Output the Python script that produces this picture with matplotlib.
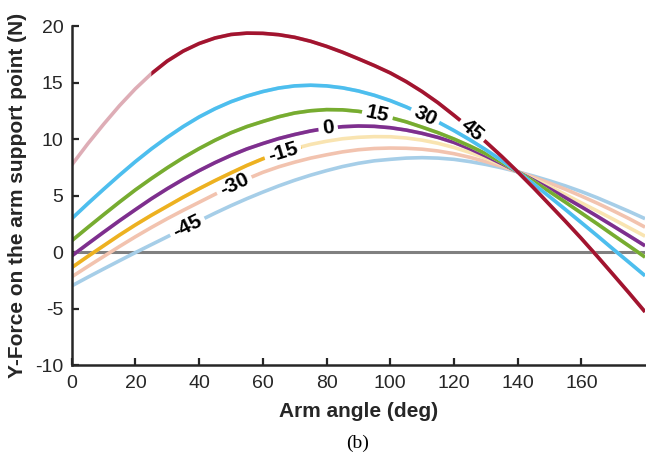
import numpy as np
import matplotlib
matplotlib.use("Agg")
import matplotlib.pyplot as plt
from matplotlib.path import Path
from matplotlib.colors import to_rgb
from matplotlib.transforms import IdentityTransform

plt.rcParams['font.family'] = ['Liberation Sans', 'DejaVu Sans']
plt.rcParams['axes.unicode_minus'] = False

# arm angle (deg), one sample every 5 deg
angle = np.arange(0, 181, 5)

# Y-force (N) for each offset angle
force_m45 = [-3.0, -2.24, -1.5, -0.77, -0.05, 0.65, 1.35, 2.06, 2.75, 3.44, 4.1, 4.72, 5.3, 5.85,
             6.35, 6.8, 7.2, 7.56, 7.85, 8.07, 8.2, 8.31, 8.35, 8.31, 8.2, 8.0, 7.75, 7.45, 7.1,
             6.72, 6.3, 5.85, 5.35, 4.8, 4.2, 3.59, 2.95]
force_m30 = [-2.2, -1.29, -0.4, 0.49, 1.35, 2.17, 2.95, 3.69, 4.4, 5.11, 5.8, 6.46, 7.05, 7.54,
             7.95, 8.31, 8.6, 8.86, 9.05, 9.16, 9.2, 9.18, 9.1, 8.94, 8.7, 8.38, 8.0, 7.57, 7.1,
             6.62, 6.1, 5.55, 4.95, 4.32, 3.65, 2.95, 2.2]
force_m15 = [-1.38, -0.4, 0.55, 1.5, 2.4, 3.25, 4.05, 4.85, 5.6, 6.32, 7.0, 7.66, 8.25, 8.74,
             9.15, 9.52, 9.8, 10.02, 10.15, 10.21, 10.2, 10.09, 9.9, 9.62, 9.25, 8.81, 8.3, 7.73,
             7.1, 6.47, 5.8, 5.09, 4.35, 3.63, 2.9, 2.15, 1.4]
force_0 = [-0.35, 0.71, 1.75, 2.77, 3.75, 4.71, 5.6, 6.43, 7.2, 7.91, 8.55, 9.12, 9.6, 10.04,
           10.4, 10.71, 10.95, 11.09, 11.15, 11.12, 11.0, 10.79, 10.5, 10.14, 9.7, 9.14, 8.5,
           7.82, 7.1, 6.36, 5.6, 4.81, 4.0, 3.16, 2.3, 1.43, 0.55]
force_15 = [1.0, 2.16, 3.3, 4.42, 5.5, 6.5, 7.45, 8.34, 9.15, 9.89, 10.55, 11.1, 11.55, 11.97,
            12.3, 12.5, 12.6, 12.58, 12.45, 12.23, 11.9, 11.52, 11.05, 10.56, 10.0, 9.38, 8.7,
            7.93, 7.1, 6.25, 5.35, 4.41, 3.45, 2.49, 1.5, 0.53, -0.45]
force_30 = [2.95, 4.27, 5.55, 6.8, 8.0, 9.12, 10.15, 11.1, 11.95, 12.68, 13.3, 13.8, 14.2, 14.51,
            14.7, 14.76, 14.7, 14.53, 14.25, 13.87, 13.4, 12.84, 12.2, 11.51, 10.75, 9.93, 9.05,
            8.11, 7.1, 6.02, 4.9, 3.76, 2.6, 1.44, 0.25, -0.92, -2.1]
force_45 = [7.7, 9.56, 11.3, 12.95, 14.45, 15.78, 16.9, 17.78, 18.45, 18.94, 19.25, 19.37, 19.35,
            19.23, 19.0, 18.65, 18.2, 17.68, 17.1, 16.5, 15.85, 15.08, 14.2, 13.21, 12.1, 10.96,
            9.75, 8.46, 7.1, 5.68, 4.2, 2.72, 1.2, -0.38, -2.0, -3.63, -5.3]

offsets = ['-45', '-30', '-15', '0', '15', '30', '45']
curves = [force_m45, force_m30, force_m15, force_0, force_15, force_30, force_45]

colors = ['#0072BD', '#D95319', '#EDB120', '#7E2F8E', '#77AC30', '#4DBEEE', '#A2142F']
# angle range drawn at full colour, the rest of the curve is faded
solid_span = [None, None, (0, 72), (0, 180), (0, 180), (0, 180), (25, 180)]
label_at = [36.3, 51.0, 66.3, 80.5, 96.0, 111.0, 125.8]


def fade(c, a=0.35):
    rgb = np.array(to_rgb(c))
    return tuple(1 - a * (1 - rgb))


fig = plt.figure(figsize=(6.46, 4.57), dpi=100)
ax = fig.add_axes([0.111, 0.2013, 0.8875, 0.7418])

ax.axhline(0, color='#808080', lw=2.2, zorder=1)

drawn = []
for off, y, c, span, lx in zip(offsets, curves, colors, solid_span, label_at):
    y = np.asarray(y, dtype=float)
    lf, = ax.plot(angle, y, color=fade(c), lw=2.6, solid_capstyle='butt', zorder=2)
    segs = [(lf, None)]
    if span is not None:
        ls, = ax.plot(angle, y, color=c, lw=2.6, solid_capstyle='butt', zorder=2)
        segs.append((ls, span))
    t = ax.text(lx, np.interp(lx, angle, y), off, ha='center', va='center',
                rotation_mode='anchor', fontsize=15, fontweight='bold',
                color='black', zorder=5)
    drawn.append((t, lx, y, segs))

ax.set_xlim(0, 180)
ax.set_ylim(-10, 20)
ax.set_xticks(np.arange(0, 161, 20))
ax.set_yticks(np.arange(-10, 21, 5))
for s in ['top', 'right']:
    ax.spines[s].set_visible(False)
for s in ['left', 'bottom']:
    ax.spines[s].set_linewidth(1.8)
    ax.spines[s].set_color('#262626')
ax.tick_params(direction='in', length=5, width=1.6, labelsize=14, colors='#262626')
ax.tick_params(axis='y', pad=6)
ax.tick_params(axis='x', pad=7)

ax.set_xlabel('Arm angle (deg)', fontsize=15, fontweight='bold', color='#262626')
ax.set_ylabel('Y-Force on the arm support point (N)', fontsize=15, fontweight='bold',
              color='#262626')
ax.xaxis.label.set_va('center')
ax.yaxis.label.set_va('center')
ax.xaxis.set_label_coords(0.5, -0.1386)
ax.yaxis.set_label_coords(-0.0937, 0.5)

fig.text(0.554, 0.0306, '(b)', family='Liberation Serif', fontsize=14,
         ha='center', va='center')

# inline labels: rotate along the curve and cut a gap in the line under them
fig.canvas.draw()
rend = fig.canvas.get_renderer()
W, H = fig.bbox.width, fig.bbox.height
codes = [Path.MOVETO, Path.LINETO, Path.LINETO, Path.LINETO, Path.CLOSEPOLY] * 2
for t, lx, y, segs in drawn:
    p0 = ax.transData.transform((lx - 2, np.interp(lx - 2, angle, y)))
    p1 = ax.transData.transform((lx + 2, np.interp(lx + 2, angle, y)))
    rot = np.degrees(np.arctan2(p1[1] - p0[1], p1[0] - p0[0]))
    bb = t.get_window_extent(rend)
    t.set_rotation(rot)
    cx, cy = ax.transData.transform(t.get_position())
    hw, hh = bb.width / 2 + 4, bb.height / 2 + 2
    th = np.radians(rot)
    cs, sn = np.cos(th), np.sin(th)
    local = [(-hw, -hh), (hw, -hh), (hw, hh), (-hw, hh)]
    hole = [(cx + u * cs - v * sn, cy + u * sn + v * cs) for u, v in local][::-1]
    for line, span in segs:
        if span is None:
            x0, x1 = 0, W
        else:
            x0 = 0 if span[0] <= 0 else ax.transData.transform((span[0], 0))[0]
            x1 = W if span[1] >= 180 else ax.transData.transform((span[1], 0))[0]
        outer = [(x0, 0), (x1, 0), (x1, H), (x0, H)]
        verts = outer + [outer[0]] + hole + [hole[0]]
        line.set_clip_path(Path(verts, codes), IdentityTransform())

fig.savefig('out.png', dpi=100)
